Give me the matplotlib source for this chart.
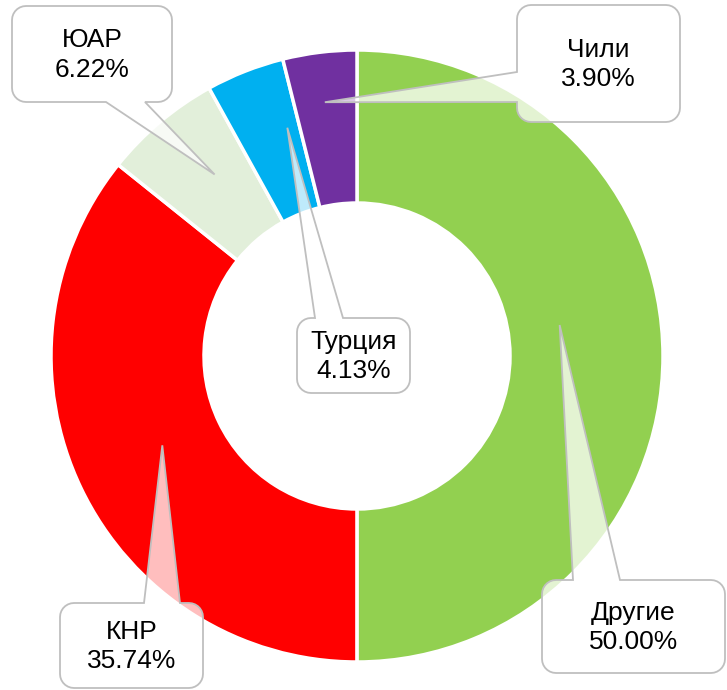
import numpy as np
import matplotlib
matplotlib.use("Agg")
import matplotlib.pyplot as plt
from matplotlib.patches import Polygon

# data
labels = ["Другие", "КНР", "ЮАР", "Турция", "Чили"]
shares = [50.00, 35.74, 6.22, 4.13, 3.90]
colors = ["#92D050", "#FF0000", "#E2EFDA", "#00B0F0", "#7030A0"]

W, H = 727, 690
CX, CY, R = 357, 356, 306   # pixel layout (image coords, y down)


def fy(y):
    # image y (down) -> axes y (up)
    return H - y


fig = plt.figure(figsize=(W / 100, H / 100), dpi=100)
ax = fig.add_axes([0, 0, 1, 1])

wedges, _ = ax.pie(shares, colors=colors, radius=R, center=(CX, fy(CY)),
                   startangle=90, counterclock=False,
                   wedgeprops=dict(width=153, edgecolor="white", linewidth=2.5))
ax.set_xlim(0, W)
ax.set_ylim(0, H)
ax.set_aspect("equal")
ax.axis("off")


def rounded_box_with_pointer(x0, y0, x1, y1, side, a, b, tip, r=14):
    # build outline in image coords, clockwise on screen
    def arc(cx, cy, t0, t1):
        ts = np.radians(np.linspace(t0, t1, 8))
        return [(cx + r * np.cos(t), cy + r * np.sin(t)) for t in ts]

    pts = []
    pts += arc(x0 + r, y0 + r, 180, 270)          # top-left
    if side == "top":
        pts += [(a, y0), tip, (b, y0)]
    pts += arc(x1 - r, y0 + r, 270, 360)          # top-right
    pts += arc(x1 - r, y1 - r, 0, 90)             # bottom-right
    if side == "bottom":
        pts += [(b, y1), tip, (a, y1)]
    pts += arc(x0 + r, y1 - r, 90, 180)           # bottom-left
    if side == "left":
        pts += [(x0, b), tip, (x0, a)]
    return [(x, fy(y)) for x, y in pts]


# callout layout: box (x0, y0, x1, y1), pointer side, pointer base, tip radius frac, angle shift
callouts = {
    "Чили":   ((517, 5, 680, 122), "left", 72, 102, 0.836, 0.2),
    "ЮАР":    ((12, 6, 172, 102), "bottom", 106, 145, 0.754, -2.0),
    "Турция": ((297, 318, 410, 393), "top", 315, 343, 0.78, -4.5),
    "КНР":    ((60, 603, 203, 688), "top", 144, 180, 0.70, -1.0),
    "Другие": ((542, 580, 725, 673), "top", 573, 620, 0.67, 8.7),
}

for w, lab, val in zip(wedges, labels, shares):
    (x0, y0, x1, y1), side, a, b, rf, dth = callouts[lab]
    mid = np.radians((w.theta1 + w.theta2) / 2 + dth)
    tip = (CX + rf * R * np.cos(mid), CY - rf * R * np.sin(mid))
    poly = Polygon(rounded_box_with_pointer(x0, y0, x1, y1, side, a, b, tip),
                   closed=True, facecolor=(1, 1, 1, 0.75),
                   edgecolor="#BFBFBF", linewidth=1.3, zorder=5)
    ax.add_patch(poly)
    ax.text((x0 + x1) / 2, fy((y0 + y1) / 2 + 1), f"{lab}\n{val:.2f}%",
            ha="center", va="center", fontsize=19, family="Liberation Sans",
            color="black", linespacing=1.3, zorder=6)

fig.savefig("out.png", dpi=100)
